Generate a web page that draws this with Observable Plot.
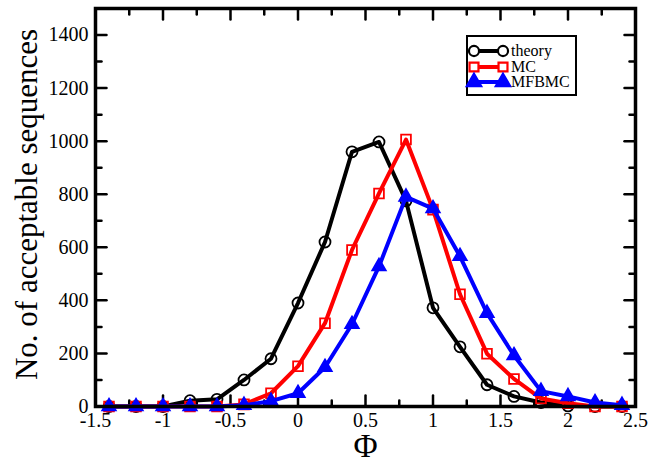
<!DOCTYPE html>
<html>
<head>
<meta charset="utf-8">
<script src="https://cdn.jsdelivr.net/npm/d3@7"></script>
<script src="https://cdn.jsdelivr.net/npm/@observablehq/plot@0.6"></script>
<style>
  html, body { margin: 0; padding: 0; background: #fff; }
  #chart svg { display: block; }
</style>
</head>
<body>
<div id="chart"></div>
<script>
// ---- data ----
const phi = [-1.4, -1.2, -1.0, -0.8, -0.6, -0.4, -0.2, 0.0, 0.2, 0.4, 0.6, 0.8, 1.0, 1.2, 1.4, 1.6, 1.8, 2.0, 2.2, 2.4];
const theory = [0, 0, 0, 22, 27, 100, 180, 390, 620, 960, 997, 775, 372, 225, 82, 38, 15, 2, 0, 0];
const mc     = [0, 0, 0, 0, 0, 8, 50, 152, 314, 590, 803, 1006, 742, 423, 199, 104, 30, 12, 0, 0];
const mfbmc  = [0, 0, 0, 0, 0, 5, 20, 50, 148, 310, 528, 790, 746, 566, 352, 192, 58, 38, 15, 5];

const seriesNames = ["theory", "MC", "MFBMC"];
const seriesColors = ["#000000", "#ff0000", "#0000ff"];
const seriesSymbols = ["circle", "square", "triangle"];

const xMajorTicks = [-1.5, -1, -0.5, 0, 0.5, 1, 1.5, 2, 2.5];
const xTickLabels = ["-1.5", "-1", "-0.5", "0", "0.5", "1", "1.5", "2", "2.5"];
const xMinorTicks = [-1.25, -0.75, -0.25, 0.25, 0.75, 1.25, 1.75, 2.25];
const yMajorTicks = [0, 200, 400, 600, 800, 1000, 1200, 1400];
const yMinorTicks = [100, 300, 500, 700, 900, 1100, 1300, 1500];

const xLabel = "Φ";
const yLabel = "No. of acceptable sequences";

// ---- build table ----
const allSeries = [theory, mc, mfbmc];
const rows = [];
seriesNames.forEach((name, i) => {
  phi.forEach((p, j) => rows.push({series: name, phi: p, count: allSeries[i][j]}));
});

const font = "'Liberation Serif', 'Times New Roman', serif";
const tickShape = {draw(context, l) { context.moveTo(0, 0); context.lineTo(0, -l); }};
const tickStyle = {stroke: "black", strokeWidth: 2.5, anchor: "start", shape: tickShape};

const marks = [];
// inward ticks on all four sides
marks.push(Plot.vector(xMajorTicks, {x: d => d, frameAnchor: "bottom", rotate: 0, length: 11, ...tickStyle}));
marks.push(Plot.vector(xMinorTicks, {x: d => d, frameAnchor: "bottom", rotate: 0, length: 6, ...tickStyle}));
marks.push(Plot.vector(xMajorTicks, {x: d => d, frameAnchor: "top", rotate: 180, length: 11, ...tickStyle}));
marks.push(Plot.vector(xMinorTicks, {x: d => d, frameAnchor: "top", rotate: 180, length: 6, ...tickStyle}));
marks.push(Plot.vector(yMajorTicks, {y: d => d, frameAnchor: "left", rotate: 90, length: 11, ...tickStyle}));
marks.push(Plot.vector(yMinorTicks, {y: d => d, frameAnchor: "left", rotate: 90, length: 6, ...tickStyle}));
marks.push(Plot.vector(yMajorTicks, {y: d => d, frameAnchor: "right", rotate: -90, length: 11, ...tickStyle}));
marks.push(Plot.vector(yMinorTicks, {y: d => d, frameAnchor: "right", rotate: -90, length: 6, ...tickStyle}));

// series
seriesNames.forEach((name, i) => {
  const d = rows.filter(r => r.series === name);
  marks.push(Plot.line(d, {x: "phi", y: "count", stroke: seriesColors[i], strokeWidth: 4}));
  marks.push(Plot.dot(d, {
    x: "phi", y: "count",
    symbol: () => seriesSymbols[i],
    r: name === "MFBMC" ? 5 : 5.5,
    stroke: seriesColors[i],
    strokeWidth: 1.8,
    fill: name === "MFBMC" ? seriesColors[i] : "none"
  }));
});

marks.push(Plot.frame({stroke: "black", strokeWidth: 3.5}));

// axis tick labels
marks.push(Plot.axisX({ticks: xMajorTicks, tickSize: 0, tickPadding: 6, fontSize: 20,
  tickFormat: d => xTickLabels[xMajorTicks.indexOf(d)], label: null}));
marks.push(Plot.axisY({ticks: yMajorTicks, tickSize: 0, tickPadding: 7, fontSize: 20,
  tickFormat: d => String(d), label: null}));

// axis titles
marks.push(Plot.text([xLabel], {text: d => d, frameAnchor: "bottom", dy: 50, lineAnchor: "bottom", fontSize: 33}));
marks.push(Plot.text([yLabel], {text: d => d, frameAnchor: "left", dx: -59, dy: -3, rotate: -90,
  textAnchor: "middle", lineAnchor: "bottom", fontSize: 31}));

const chart = Plot.plot({
  width: 648,
  height: 460,
  marginLeft: 95,
  marginRight: 13,
  marginTop: 8,
  marginBottom: 54,
  style: {fontFamily: font, color: "black", background: "white", overflow: "visible"},
  x: {domain: [-1.5, 2.5]},
  y: {domain: [0, 1500]},
  symbol: {type: "identity"},
  marks
});

document.getElementById("chart").appendChild(chart);

// ---- legend (inside the plot area, top right) ----
const svg = d3.select(chart.tagName === "svg" ? chart : chart.querySelector("svg"));
const lg = svg.append("g").attr("font-family", font).attr("font-size", 16).attr("text-anchor", "start");
lg.append("rect").attr("x", 467).attr("y", 36).attr("width", 109).attr("height", 59)
  .attr("fill", "white").attr("stroke", "black").attr("stroke-width", 2);
const legendRows = [51, 67, 82];
seriesNames.forEach((name, i) => {
  const y = legendRows[i];
  const g = lg.append("g");
  g.append("line").attr("x1", 474).attr("x2", 503).attr("y1", y).attr("y2", y)
    .attr("stroke", seriesColors[i]).attr("stroke-width", 4);
  const sym = d3.symbol().type(i === 0 ? d3.symbolCircle : i === 1 ? d3.symbolSquare : d3.symbolTriangle)
    .size(i === 2 ? 90 : 80);
  [474, 503].forEach(x => {
    g.append("path").attr("d", sym()).attr("transform", `translate(${x},${y})`)
      .attr("fill", i === 2 ? seriesColors[i] : "white")
      .attr("stroke", seriesColors[i]).attr("stroke-width", 2.2);
  });
  g.append("text").attr("x", 511).attr("y", y + 5).attr("fill", "black").text(name);
});
</script>
</body>
</html>
